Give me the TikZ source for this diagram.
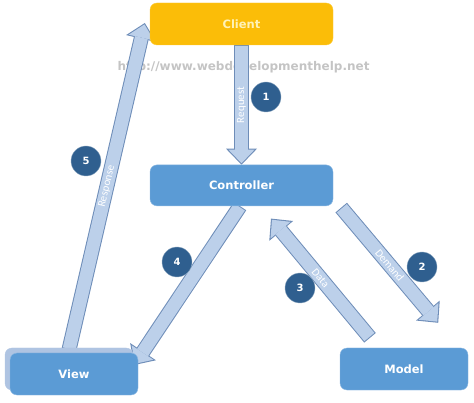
\documentclass[tikz,border=0pt]{standalone}
\usepackage{fontspec}
\setmainfont{DejaVu Sans}
\newfontfamily\lblfont{Carlito}
\usetikzlibrary{positioning,arrows.meta,shadows,backgrounds}

\definecolor{clientfill}{HTML}{FBBD08}
\definecolor{clienttext}{HTML}{FFF2B8}
\definecolor{boxfill}{HTML}{5B9BD5}
\definecolor{boxedge}{HTML}{8DB9E2}
\definecolor{viewshade}{HTML}{AFC4E2}
\definecolor{flowfill}{HTML}{BCD0EA}
\definecolor{flowedge}{HTML}{6E8DB8}
\definecolor{badgefill}{HTML}{2F5F8F}
\definecolor{webgray}{HTML}{C4C4C4}

\begin{document}
\begin{tikzpicture}[x=1pt,y=-1pt]
  % Settings
  \tikzset{
    box/.style={draw=boxedge, fill=boxfill, rounded corners=7pt, minimum width=128pt, minimum height=42pt, text=white, font=\bfseries\fontsize{11.5}{14}\selectfont},
    client/.style={box, draw=clientfill!80!white, fill=clientfill, text=clienttext, minimum width=183pt},
    badge/.style={draw=badgefill!55!white, fill=badgefill, circle, minimum size=30pt, inner sep=0pt, text=white, font=\bfseries\fontsize{10}{12}\selectfont},
    flow/.style={draw=flowfill, line width=13pt, shorten <=1pt, shorten >=1.5pt, -{Triangle[width=26pt, length=13.5pt, line width=0pt]},
      preaction={draw=flowedge, line width=15pt, shorten <=0pt, shorten >=0pt, -{Triangle[width=31pt, length=16pt, line width=0pt]}}},
    flowlbl/.style={text=white, font=\lblfont\fontsize{11}{13}\selectfont, inner sep=1pt},
    web/.style={text=webgray, font=\bfseries\fontsize{12}{14}\selectfont},
  }

  \useasboundingbox (0,0) rectangle (474,403);

  \node[client] (client) at (241.5,24) {Client};
  \node[box, minimum width=183pt, minimum height=41pt, below=119.5pt of client] (controller) {Controller};
  \node[box, copy shadow={shadow xshift=-5pt, shadow yshift=5pt, fill=viewshade, draw=viewshade}] (view) at (74,374) {View};
  \node[box] (model) at (404,369) {Model};

  % Steps
  \foreach \n/\x/\y in {1/266/97, 2/422/267, 3/300/288, 4/177/262, 5/86/161}
    {\node[badge] (b\n) at (\x,\y) {\n};}

  \begin{scope}[on background layer]
    \node[web] (url) at (243.5,67) {http://www.webdevelopmenthelp.net};

    % Arrows
    \draw[flow] (client) -- node[flowlbl, rotate=90] {Request} (controller);
    \draw[flow] ([xshift=8pt,yshift=-1.5pt]controller.south east) -- node[flowlbl, sloped] {Demand} ([xshift=-30pt,yshift=25pt]model.north east);
    \draw[flow] ([xshift=-34pt,yshift=10pt]model.north) -- node[flowlbl, sloped] {Data} ([xshift=29.5pt,yshift=-12.5pt]controller.south);
    \draw[flow] ([xshift=-1.5pt]controller.south) -- ([xshift=-4pt,yshift=9pt]view.east);
    \draw[flow] ([xshift=-5pt,yshift=3pt]view.north) -- node[flowlbl, sloped] {Response} ([xshift=-5pt,yshift=1pt]client.west);
  \end{scope}
\end{tikzpicture}
\end{document}
